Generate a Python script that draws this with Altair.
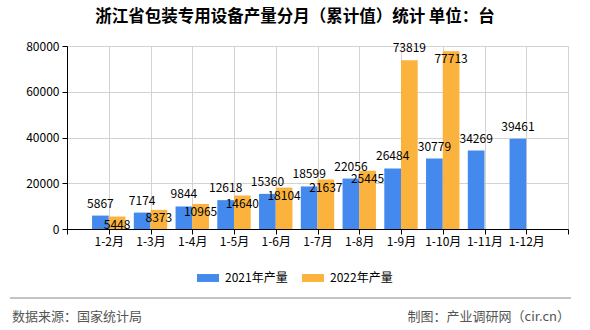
import json
import altair as alt
import pandas as pd

months = ["1-2月", "1-3月", "1-4月", "1-5月", "1-6月", "1-7月", "1-8月", "1-9月", "1-10月", "1-11月", "1-12月"]
v2021 = [5867, 7174, 9844, 12618, 15360, 18599, 22056, 26484, 30779, 34269, 39461]
v2022 = [5448, 8373, 10965, 14640, 18104, 21637, 25445, 73819, 77713, None, None]
series_names = ["2021年产量", "2022年产量"]
colors = ["#4489EE", "#FCB33E"]
y_ticks = [0, 20000, 40000, 60000, 80000]

rows = []
for i, m in enumerate(months):
    rows.append({"month": m, "idx": i + 1, "series": series_names[0], "value": v2021[i]})
    if v2022[i] is not None:
        rows.append({"month": m, "idx": i + 1, "series": series_names[1], "value": v2022[i]})
df = pd.DataFrame(rows)

FONT = "Noto Sans CJK SC"
label_expr = ("datum.value >= 1 && datum.value <= %d ? %s[datum.value - 1] : ''"
              % (len(months), json.dumps(months, ensure_ascii=False)))

base = alt.Chart(df).transform_calculate(
    x0="datum.idx + (datum.series == '2021年产量' ? -0.4 : 0)",
    x1="datum.idx + (datum.series == '2021年产量' ? 0 : 0.4)",
    xc="datum.idx + (datum.series == '2021年产量' ? -0.2 : 0.2)",
)

xscale = alt.Scale(domain=[0, 12], nice=False, zero=False)
yscale = alt.Scale(domain=[0, 80000], nice=False)

bars = base.mark_bar().encode(
    x=alt.X("x0:Q", scale=xscale,
            axis=alt.Axis(values=list(range(13)), labelExpr=label_expr, title=None,
                          grid=True, gridColor="#D3D3D3", domainColor="#000000",
                          tickColor="#000000", tickSize=5, labelFontSize=12,
                          labelFont=FONT, labelColor="#000000", labelPadding=2,
                          labelFlush=False, labelOverlap=False)),
    x2="x1:Q",
    y=alt.Y("value:Q", scale=yscale,
            axis=alt.Axis(values=y_ticks, format="d", title=None, grid=True,
                          gridColor="#D3D3D3", domainColor="#000000",
                          tickColor="#000000", tickSize=5, labelFontSize=12,
                          labelFont=FONT, labelColor="#000000", labelPadding=3)),
    y2=alt.datum(0),
    color=alt.Color("series:N", scale=alt.Scale(domain=series_names, range=colors),
                    legend=alt.Legend(title=None, orient="none", direction="horizontal",
                                      legendX=130, legendY=221,
                                      symbolType="M-1,-0.36H1V0.36H-1Z", symbolSize=484,
                                      symbolStrokeWidth=0, labelFontSize=12,
                                      labelFont=FONT, labelColor="#000000",
                                      labelOffset=6, columnPadding=14)),
)

lab21 = base.transform_filter("datum.series == '2021年产量'").mark_text(
    baseline="middle", align="center", dy=-12, fontSize=12, font=FONT, color="#000000"
).encode(x="xc:Q", y="value:Q", text="value:Q")

lab22 = base.transform_filter("datum.series == '2022年产量' && datum.month != '1-9月'").mark_text(
    baseline="middle", align="center", dy=8, fontSize=12, font=FONT, color="#000000"
).encode(x="xc:Q", y="value:Q", text="value:Q")

lab22b = base.transform_filter("datum.series == '2022年产量' && datum.month == '1-9月'").mark_text(
    baseline="middle", align="center", dy=-12, fontSize=12, font=FONT, color="#000000"
).encode(x="xc:Q", y="value:Q", text="value:Q")

one = alt.Data(values=[{"t": 1}])
title = alt.Chart(one).mark_text(
    text="浙江省包装专用设备产量分月（累计值）统计 单位：台", fontSize=16.5, fontWeight="bold",
    font=FONT, align="center", baseline="middle", color="#000000"
).encode(x=alt.value(228), y=alt.value(-29))

sep = alt.Chart(one).mark_rule(color="#888888", strokeWidth=1).encode(
    x=alt.value(-57), x2=alt.value(504), y=alt.value(252))

foot_l = alt.Chart(one).mark_text(
    text="数据来源：国家统计局", fontSize=13, font=FONT, align="left", baseline="middle",
    color="#555555").encode(x=alt.value(-55), y=alt.value(271))
foot_r = alt.Chart(one).mark_text(
    text="制图：产业调研网（cir.cn）", fontSize=13, font=FONT, align="right", baseline="middle",
    color="#555555").encode(x=alt.value(503), y=alt.value(271))

chart = alt.layer(bars, lab21, lab22, lab22b, title, sep, foot_l, foot_r).properties(
    width=501, height=183,
    autosize=alt.AutoSizeParams(type="none"),
    padding={"left": 67, "top": 46, "right": 22, "bottom": 101},
).configure_view(stroke=None).configure(background="#FFFFFF")

chart.save("out.html", embed_options={"renderer": "svg", "actions": False})
